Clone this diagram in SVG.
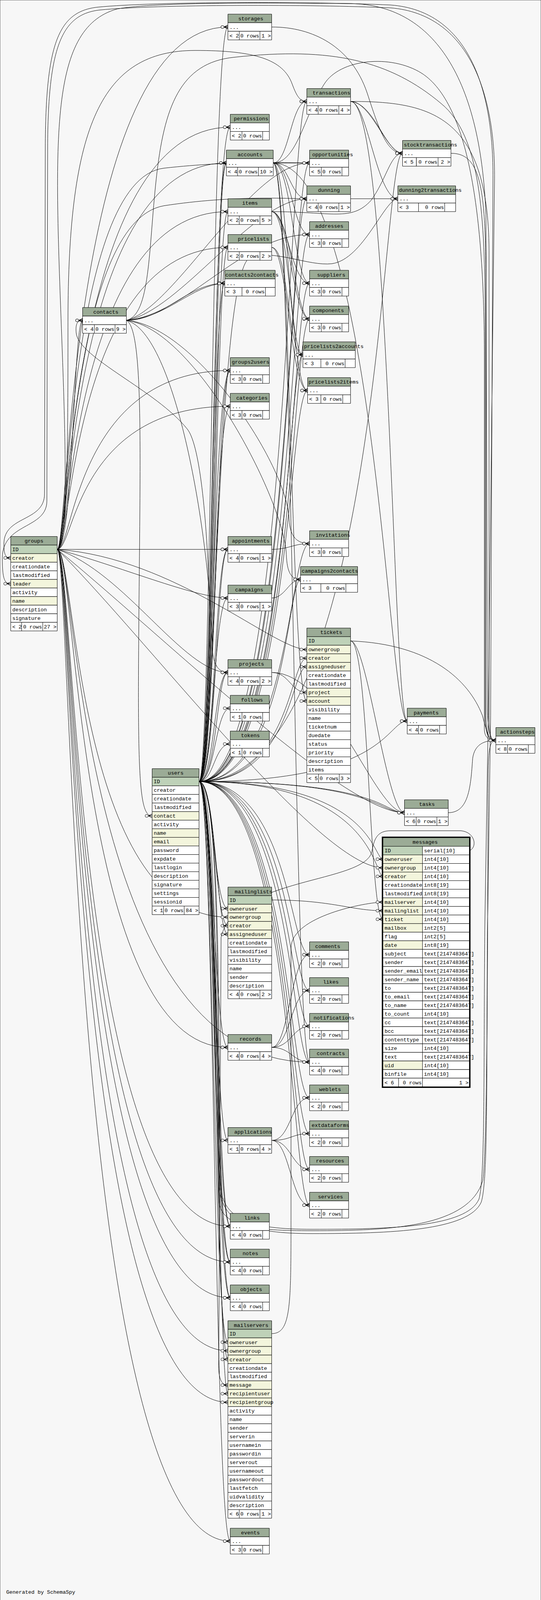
<svg xmlns="http://www.w3.org/2000/svg" width="1385" height="4472" viewBox="0 0 1385 4472">
<style>
.h{fill:#9bab96}.p{fill:#bed1b8}.i{fill:#f3f5dc}.w{fill:#fff}
rect{stroke:#000;stroke-width:1;vector-effect:non-scaling-stroke}
text{font-family:"Liberation Mono","DejaVu Sans Mono",monospace;font-size:13.4px;fill:#000}
.c{text-anchor:middle}.e{text-anchor:end}
#edges path{fill:none;stroke:#000;stroke-width:1;vector-effect:non-scaling-stroke;marker-end:url(#cf)}
</style>
<defs>
<marker id="cf" markerUnits="userSpaceOnUse" viewBox="-20 -7 22 14" markerWidth="22" markerHeight="14" refX="0" refY="0" orient="auto" overflow="visible">
<circle cx="-14" cy="0" r="4" fill="#f7f7f7" stroke="#000" stroke-width="1"/>
<path d="M-10,0 L0,-5 M-10,0 L0,5 M-10,0 L0,0" fill="none" stroke="#000" stroke-width="1.3"/>
</marker>
</defs>
<rect x="0" y="0" width="1385" height="4472" fill="#f7f7f7" stroke="none"/>
<g id="diagram" transform="matrix(1 0 0 0.9159 0 0)">
<g id="edges">
<path d="M509.5,2184.5 C541,2184.5 541,75.5 583.5,75.5"/>
<path d="M509.5,2184.5 C543,2184.5 543,355.5 589.5,355.5"/>
<path d="M509.5,2184.5 C545,2184.5 545,455.5 579.5,455.5"/>
<path d="M509.5,2184.5 C549,2184.5 549,455.5 579.5,455.5"/>
<path d="M509.5,2184.5 C550,2184.5 550,591.5 583.5,591.5"/>
<path d="M509.5,2184.5 C552,2184.5 552,691.5 583.5,691.5"/>
<path d="M509.5,2184.5 C544,2184.5 544,791.5 575.5,791.5"/>
<path d="M509.5,2184.5 C546,2184.5 546,1035.5 589.5,1035.5"/>
<path d="M509.5,2184.5 C553,2184.5 553,1035.5 589.5,1035.5"/>
<path d="M509.5,2184.5 C548,2184.5 548,1135.5 589.5,1135.5"/>
<path d="M509.5,2184.5 C550,2184.5 550,1535.5 583.5,1535.5"/>
<path d="M509.5,2184.5 C554,2184.5 554,1535.5 583.5,1535.5"/>
<path d="M509.5,2184.5 C547,2184.5 547,1671.5 583.5,1671.5"/>
<path d="M509.5,2184.5 C549,2184.5 549,1879.5 583.5,1879.5"/>
<path d="M509.5,2184.5 C555,2184.5 555,1879.5 583.5,1879.5"/>
<path d="M509.5,2184.5 C551,2184.5 551,1979.5 589.5,1979.5"/>
<path d="M509.5,2184.5 C548,2184.5 548,2079.5 589.5,2079.5"/>
<path d="M509.5,2184.5 C548,2184.5 548,2539.5 583.5,2539.5"/>
<path d="M509.5,2184.5 C551,2184.5 551,2587.5 583.5,2587.5"/>
<path d="M509.5,2184.5 C554,2184.5 554,2611.5 583.5,2611.5"/>
<path d="M509.5,2184.5 C547,2184.5 547,2927.5 583.5,2927.5"/>
<path d="M509.5,2184.5 C549,2184.5 549,3187.5 583.5,3187.5"/>
<path d="M509.5,2184.5 C551,2184.5 551,3427.5 589.5,3427.5"/>
<path d="M509.5,2184.5 C555,2184.5 555,3427.5 589.5,3427.5"/>
<path d="M509.5,2184.5 C548,2184.5 548,3527.5 589.5,3527.5"/>
<path d="M509.5,2184.5 C553,2184.5 553,3527.5 589.5,3527.5"/>
<path d="M509.5,2184.5 C550,2184.5 550,3627.5 589.5,3627.5"/>
<path d="M509.5,2184.5 C556,2184.5 556,3627.5 589.5,3627.5"/>
<path d="M509.5,2184.5 C546,2184.5 546,3751.5 583.5,3751.5"/>
<path d="M509.5,2184.5 C552,2184.5 552,3799.5 583.5,3799.5"/>
<path d="M509.5,2184.5 C557,2184.5 557,3895.5 583.5,3895.5"/>
<path d="M509.5,2184.5 C549,2184.5 549,4307.5 589.5,4307.5"/>
<path d="M509.5,2184.5 C738,2184.5 738,283.5 785.5,283.5"/>
<path d="M509.5,2184.5 C742,2184.5 742,455.5 792.5,455.5"/>
<path d="M509.5,2184.5 C740,2184.5 740,555.5 785.5,555.5"/>
<path d="M509.5,2184.5 C744,2184.5 744,655.5 792.5,655.5"/>
<path d="M509.5,2184.5 C746,2184.5 746,791.5 792.5,791.5"/>
<path d="M509.5,2184.5 C748,2184.5 748,891.5 792.5,891.5"/>
<path d="M509.5,2184.5 C736,2184.5 736,991.5 775.5,991.5"/>
<path d="M509.5,2184.5 C739,2184.5 739,1091.5 787.5,1091.5"/>
<path d="M509.5,2184.5 C741,2184.5 741,1519.5 792.5,1519.5"/>
<path d="M509.5,2184.5 C735,2184.5 735,1619.5 769.5,1619.5"/>
<path d="M509.5,2184.5 C743,2184.5 743,1839.5 785.5,1839.5"/>
<path d="M509.5,2184.5 C745,2184.5 745,1863.5 785.5,1863.5"/>
<path d="M509.5,2184.5 C742,2184.5 742,2668.5 792.5,2668.5"/>
<path d="M509.5,2184.5 C744,2184.5 744,2768.5 792.5,2768.5"/>
<path d="M509.5,2184.5 C746,2184.5 746,2868.5 792.5,2868.5"/>
<path d="M509.5,2184.5 C748,2184.5 748,2968.5 792.5,2968.5"/>
<path d="M509.5,2184.5 C740,2184.5 740,3068.5 792.5,3068.5"/>
<path d="M509.5,2184.5 C743,2184.5 743,3168.5 792.5,3168.5"/>
<path d="M509.5,2184.5 C745,2184.5 745,3268.5 792.5,3268.5"/>
<path d="M509.5,2184.5 C747,2184.5 747,3368.5 792.5,3368.5"/>
<path d="M509.5,2184.5 C975,2184.5 975,428.5 1030.5,428.5"/>
<path d="M509.5,2184.5 C553,2184.5 553,760 640,720 C700,695 790,745 850,737 C930,725 985,555.5 1018.5,555.5"/>
<path d="M509.5,2184.5 C990,2184.5 990,2015.5 1042.5,2015.5"/>
<path d="M509.5,2184.5 C968,2184.5 968,2271.5 1035.5,2271.5"/>
<path d="M509.5,2184.5 C980,2184.5 980,2271.5 1035.5,2271.5"/>
<path d="M509.5,2184.5 C955,2184.5 955,2401.5 980.5,2401.5"/>
<path d="M509.5,2184.5 C958,2184.5 958,2449.5 980.5,2449.5"/>
<path d="M509.5,2184.5 C556,2184.5 556,3000 560,3350 C562,3430 650,3440 800,3440 C1000,3440 1200,3430 1236,3300 C1250,3200 1248,2400 1250,2150 C1251,2090 1255,2069.5 1269.5,2069.5"/>
<path d="M509.5,2184.5 C558,2184.5 558,2700 560,3300 C562,3420 640,3448 800,3448 C1000,3448 1200,3440 1232,3360 C1250,3300 1245,3000 1248,2600 L1256,2000 L1262,500 C1264,250 1200,30 1000,14 C800,4 400,4 250,20 C150,32 118,120 116,400 L114,1380 C114,1460 10,1440 10,1520 C10,1550 14,1559.5 27.5,1559.5"/>
<path d="M509.5,2184.5 C560,2184.5 560,2700 563,3300 C565,3410 640,3436 800,3436 C1000,3436 1195,3430 1226,3352 C1242,3295 1238,3000 1241,2600 L1250,2000 L1266,500 C1268,260 1200,40 1000,22 C800,12 400,12 255,28 C160,40 124,125 122,400 L120,1400 C120,1480 6,1460 6,1560 C6,1620 12,1631.5 27.5,1631.5"/>
<path d="M509.5,2184.5 C551,2184.5 551,1300 480,1200 C400,1090 200,1000 195,930 C193,905 198,895.5 211.5,895.5"/>
<path d="M146.5,1535.5 C176,1535.5 176,75.5 583.5,75.5"/>
<path d="M146.5,1535.5 C178,1535.5 178,355.5 589.5,355.5"/>
<path d="M146.5,1535.5 C180,1535.5 180,455.5 579.5,455.5"/>
<path d="M146.5,1535.5 C182,1535.5 182,591.5 583.5,591.5"/>
<path d="M146.5,1535.5 C184,1535.5 184,691.5 583.5,691.5"/>
<path d="M146.5,1535.5 C188,1535.5 188,895.5 211.5,895.5"/>
<path d="M146.5,1535.5 C190,1535.5 190,1035.5 589.5,1035.5"/>
<path d="M146.5,1535.5 C192,1535.5 192,1135.5 589.5,1135.5"/>
<path d="M146.5,1535.5 L583.5,1535.5"/>
<path d="M146.5,1535.5 C300,1580 500,1671.5 583.5,1671.5"/>
<path d="M146.5,1535.5 C450,1560 700,1815.5 785.5,1815.5"/>
<path d="M146.5,1535.5 C320,1600 470,1879.5 583.5,1879.5"/>
<path d="M146.5,1535.5 C420,1780 880,2271.5 1035.5,2271.5"/>
<path d="M146.5,1535.5 C380,1790 820,2425.5 980.5,2425.5"/>
<path d="M146.5,1535.5 C194,1535.5 194,2563.5 583.5,2563.5"/>
<path d="M146.5,1535.5 C196,1535.5 196,2927.5 583.5,2927.5"/>
<path d="M146.5,1535.5 C198,1535.5 198,2968.5 792.5,2968.5"/>
<path d="M146.5,1535.5 C192,1535.5 192,3427.5 589.5,3427.5"/>
<path d="M146.5,1535.5 C190,1535.5 190,3527.5 589.5,3527.5"/>
<path d="M146.5,1535.5 C188,1535.5 188,3627.5 589.5,3627.5"/>
<path d="M146.5,1535.5 C186,1535.5 186,3775.5 583.5,3775.5"/>
<path d="M146.5,1535.5 C184,1535.5 184,3919.5 583.5,3919.5"/>
<path d="M146.5,1535.5 C182,1535.5 182,4307.5 589.5,4307.5"/>
<path d="M146.5,1535.5 C174,1535.5 174,1200 174,900 C174,350 260,141 500,141 C650,141 725,165 748,235 C760,270 768,283.5 785.5,283.5"/>
<path d="M146.5,1535.5 C177,1535.5 177,620 420,575 C600,545 740,555.5 785.5,555.5"/>
<path d="M146.5,1535.5 C175,1535.5 175,500 420,470 C600,448 740,455.5 792.5,455.5"/>
<path d="M146.5,1535.5 C172,1535.5 170,1300 160,1000 C140,400 120,80 300,25 C400,5 700,8 900,10 C1100,15 1230,200 1244,600 L1248,1990 C1250,2050 1255,2069.5 1269.5,2069.5"/>
<path d="M323.5,895.5 C420,895.5 480,791.5 575.5,791.5"/>
<path d="M323.5,895.5 C430,888 490,796 575.5,791.5"/>
<path d="M323.5,895.5 C480,880 620,655.5 792.5,655.5"/>
<path d="M323.5,895.5 C450,860 640,455.5 792.5,455.5"/>
<path d="M323.5,895.5 C460,870 650,555.5 785.5,555.5"/>
<path d="M323.5,895.5 C500,910 735,1300 740,1450 C742,1500 760,1519.5 792.5,1519.5"/>
<path d="M323.5,895.5 C500,918 728,1400 733,1550 C735,1600 745,1619.5 769.5,1619.5"/>
<path d="M323.5,895.5 C450,930 538,1500 543,1800 C544,1860 560,1879.5 583.5,1879.5"/>
<path d="M323.5,895.5 C370,920 358,1300 355,1800 C352,2200 360,2280.5 389.5,2280.5"/>
<path d="M323.5,895.5 C385,880 380,700 400,500 C420,300 460,175 600,160 C850,130 1000,170 1130,290 C1230,380 1242,600 1242,900 L1242,2000 C1243,2055 1250,2069.5 1269.5,2069.5"/>
<path d="M699.5,455.5 L792.5,455.5"/>
<path d="M699.5,455.5 C740,455.5 745,283.5 785.5,283.5"/>
<path d="M699.5,455.5 C740,455.5 745,555.5 785.5,555.5"/>
<path d="M699.5,455.5 C745,455.5 750,655.5 792.5,655.5"/>
<path d="M699.5,455.5 C748,455.5 752,791.5 792.5,791.5"/>
<path d="M699.5,455.5 C735,455.5 738,991.5 775.5,991.5"/>
<path d="M699.5,455.5 C742,455.5 745,1959.5 785.5,1959.5"/>
<path d="M699.5,455.5 C750,455.5 752,2968.5 792.5,2968.5"/>
<path d="M699.5,455.5 C960,455.5 995,2015.5 1042.5,2015.5"/>
<path d="M699.5,455.5 C760,455.5 780,320 830,235 C870,165 1000,150 1080,205 C1200,290 1240,600 1240,1000 L1240,2040 C1241,2060 1250,2069.5 1269.5,2069.5"/>
<path d="M695.5,591.5 C850,591.5 900,620 950,560 C990,500 1000,428.5 1030.5,428.5"/>
<path d="M695.5,591.5 C745,591.5 748,1091.5 787.5,1091.5"/>
<path d="M695.5,591.5 C740,591.5 750,891.5 792.5,891.5"/>
<path d="M695.5,591.5 C746,594 756,889 792.5,891.5"/>
<path d="M695.5,591.5 C735,591.5 745,791.5 792.5,791.5"/>
<path d="M695.5,691.5 C740,691.5 735,991.5 775.5,991.5"/>
<path d="M695.5,691.5 C735,691.5 745,1091.5 787.5,1091.5"/>
<path d="M897.5,283.5 C950,283.5 990,428.5 1030.5,428.5"/>
<path d="M897.5,283.5 C960,290 985,424 1030.5,428.5"/>
<path d="M897.5,283.5 C940,283.5 965,555.5 1018.5,555.5"/>
<path d="M897.5,283.5 C1000,283.5 1005,2015.5 1042.5,2015.5"/>
<path d="M897.5,283.5 C1100,283.5 1250,320 1252,700 L1252,2000 C1253,2060 1257,2069.5 1269.5,2069.5"/>
<path d="M897.5,555.5 L1018.5,555.5"/>
<path d="M695.5,75.5 C800,75 900,130 940,260 C970,360 990,428.5 1030.5,428.5"/>
<path d="M1154.5,428.5 C1230,428.5 1244,520 1244,800 L1244,2000 C1245,2060 1250,2069.5 1269.5,2069.5"/>
<path d="M897.5,1791.5 C1100,1800 1200,1900 1235,2000 C1245,2040 1250,2069.5 1269.5,2069.5"/>
<path d="M897.5,1791.5 C940,1791.5 990,2271.5 1035.5,2271.5"/>
<path d="M897.5,1791.5 C945,1791.5 945,2569.5 980.5,2569.5"/>
<path d="M695.5,1879.5 C740,1879.5 745,1935.5 785.5,1935.5"/>
<path d="M695.5,1879.5 C850,1879.5 960,2271.5 1035.5,2271.5"/>
<path d="M695.5,1671.5 C730,1671.5 740,1619.5 769.5,1619.5"/>
<path d="M695.5,1535.5 C740,1535.5 750,1519.5 792.5,1519.5"/>
<path d="M695.5,2515.5 C850,2515.5 900,2545.5 980.5,2545.5"/>
<path d="M695.5,3727.5 C745,3727.5 745,3650 745,3400 L745,2650 C745,2560 940,2521.5 980.5,2521.5"/>
<path d="M1201.5,2377.5 C1222,2370 1218,2326 1180,2322 L1000,2322 C965,2322 958,2345 952,2380 C935,2470 600,2450 566,2620 L560,3800 C558,3850 565,3871.5 583.5,3871.5"/>
<path d="M695.5,2927.5 C740,2927.5 745,2668.5 792.5,2668.5"/>
<path d="M695.5,2927.5 C742,2927.5 747,2768.5 792.5,2768.5"/>
<path d="M695.5,2927.5 C745,2927.5 750,2868.5 792.5,2868.5"/>
<path d="M695.5,2927.5 C745,2927.5 750,2968.5 792.5,2968.5"/>
<path d="M695.5,3187.5 C745,3187.5 745,3068.5 792.5,3068.5"/>
<path d="M695.5,3187.5 C745,3187.5 748,3168.5 792.5,3168.5"/>
<path d="M695.5,3187.5 C745,3187.5 748,3268.5 792.5,3268.5"/>
<path d="M695.5,3187.5 C742,3187.5 745,3368.5 792.5,3368.5"/>
<path d="M1147.5,2271.5 C1200,2271.5 1205,2200 1210,2120 C1215,2080 1240,2069.5 1269.5,2069.5"/>
</g>

<g id="storages"><rect class="h" x="583.5" y="39.5" width="112" height="24"/><rect class="w" x="583.5" y="63.5" width="112" height="24"/><rect class="w" x="583.5" y="87.5" width="29" height="24"/><rect class="w" x="612.5" y="87.5" width="53" height="24"/><rect class="w" x="665.5" y="87.5" width="30" height="24"/><text class="c" x="642" y="56.5">storages</text><text x="587.5" y="80.5">...</text><text x="587.5" y="104.5">&lt; 2</text><text class="e" x="663.5" y="104.5">0 rows</text><text class="e" x="693.5" y="104.5">1 &gt;</text></g>

<g id="transactions"><rect class="h" x="785.5" y="247.5" width="112" height="24"/><rect class="w" x="785.5" y="271.5" width="112" height="24"/><rect class="w" x="785.5" y="295.5" width="29" height="24"/><rect class="w" x="814.5" y="295.5" width="53" height="24"/><rect class="w" x="867.5" y="295.5" width="30" height="24"/><text class="c" x="848.5" y="264.5">transactions</text><text x="789.5" y="288.5">...</text><text x="789.5" y="312.5">&lt; 4</text><text class="e" x="865.5" y="312.5">0 rows</text><text class="e" x="895.5" y="312.5">4 &gt;</text></g>

<g id="permissions"><rect class="h" x="589.5" y="319.5" width="100" height="24"/><rect class="w" x="589.5" y="343.5" width="100" height="24"/><rect class="w" x="589.5" y="367.5" width="30" height="24"/><rect class="w" x="619.5" y="367.5" width="53" height="24"/><rect class="w" x="672.5" y="367.5" width="17" height="24"/><text class="c" x="642.7" y="336.5">permissions</text><text x="593.5" y="360.5">...</text><text x="593.5" y="384.5">&lt; 2</text><text class="e" x="670.5" y="384.5">0 rows</text></g>

<g id="accounts"><rect class="h" x="579.5" y="419.5" width="120" height="24"/><rect class="w" x="579.5" y="443.5" width="120" height="24"/><rect class="w" x="579.5" y="467.5" width="29" height="24"/><rect class="w" x="608.5" y="467.5" width="53" height="24"/><rect class="w" x="661.5" y="467.5" width="38" height="24"/><text class="c" x="640" y="436.5">accounts</text><text x="583.5" y="460.5">...</text><text x="583.5" y="484.5">&lt; 4</text><text class="e" x="659.5" y="484.5">0 rows</text><text class="e" x="697.5" y="484.5">10 &gt;</text></g>

<g id="opportunities"><rect class="h" x="792.5" y="419.5" width="100" height="24"/><rect class="w" x="792.5" y="443.5" width="100" height="24"/><rect class="w" x="792.5" y="467.5" width="30" height="24"/><rect class="w" x="822.5" y="467.5" width="53" height="24"/><rect class="w" x="875.5" y="467.5" width="17" height="24"/><text class="c" x="851.5" y="436.5">opportunities</text><text x="796.5" y="460.5">...</text><text x="796.5" y="484.5">&lt; 5</text><text class="e" x="873.5" y="484.5">0 rows</text></g>

<g id="stocktransactions"><rect class="h" x="1030.5" y="392.5" width="124" height="24"/><rect class="w" x="1030.5" y="416.5" width="124" height="24"/><rect class="w" x="1030.5" y="440.5" width="35.5" height="24"/><rect class="w" x="1066" y="440.5" width="55.5" height="24"/><rect class="w" x="1121.5" y="440.5" width="33" height="24"/><text class="c" x="1102" y="409.5">stocktransactions</text><text x="1034.5" y="433.5">...</text><text x="1034.5" y="457.5">&lt; 5</text><text class="e" x="1119.5" y="457.5">0 rows</text><text class="e" x="1152.5" y="457.5">2 &gt;</text></g>

<g id="dunning"><rect class="h" x="785.5" y="519.5" width="112" height="24"/><rect class="w" x="785.5" y="543.5" width="112" height="24"/><rect class="w" x="785.5" y="567.5" width="29" height="24"/><rect class="w" x="814.5" y="567.5" width="53" height="24"/><rect class="w" x="867.5" y="567.5" width="30" height="24"/><text class="c" x="842" y="536.5">dunning</text><text x="789.5" y="560.5">...</text><text x="789.5" y="584.5">&lt; 4</text><text class="e" x="865.5" y="584.5">0 rows</text><text class="e" x="895.5" y="584.5">1 &gt;</text></g>

<g id="dunning2transactions"><rect class="h" x="1018.5" y="519.5" width="148" height="24"/><rect class="w" x="1018.5" y="543.5" width="148" height="24"/><rect class="w" x="1018.5" y="567.5" width="53" height="24"/><rect class="w" x="1071.5" y="567.5" width="67" height="24"/><rect class="w" x="1138.5" y="567.5" width="28" height="24"/><text class="c" x="1101.5" y="536.5">dunning2transactions</text><text x="1022.5" y="560.5">...</text><text x="1022.5" y="584.5">&lt; 3</text><text class="e" x="1136.5" y="584.5">0 rows</text></g>

<g id="items"><rect class="h" x="583.5" y="555.5" width="112" height="24"/><rect class="w" x="583.5" y="579.5" width="112" height="24"/><rect class="w" x="583.5" y="603.5" width="29" height="24"/><rect class="w" x="612.5" y="603.5" width="53" height="24"/><rect class="w" x="665.5" y="603.5" width="30" height="24"/><text class="c" x="640" y="572.5">items</text><text x="587.5" y="596.5">...</text><text x="587.5" y="620.5">&lt; 2</text><text class="e" x="663.5" y="620.5">0 rows</text><text class="e" x="693.5" y="620.5">5 &gt;</text></g>

<g id="addresses"><rect class="h" x="792.5" y="619.5" width="100" height="24"/><rect class="w" x="792.5" y="643.5" width="100" height="24"/><rect class="w" x="792.5" y="667.5" width="30" height="24"/><rect class="w" x="822.5" y="667.5" width="53" height="24"/><rect class="w" x="875.5" y="667.5" width="17" height="24"/><text class="c" x="843" y="636.5">addresses</text><text x="796.5" y="660.5">...</text><text x="796.5" y="684.5">&lt; 3</text><text class="e" x="873.5" y="684.5">0 rows</text></g>

<g id="pricelists"><rect class="h" x="583.5" y="655.5" width="112" height="24"/><rect class="w" x="583.5" y="679.5" width="112" height="24"/><rect class="w" x="583.5" y="703.5" width="29" height="24"/><rect class="w" x="612.5" y="703.5" width="53" height="24"/><rect class="w" x="665.5" y="703.5" width="30" height="24"/><text class="c" x="649" y="672.5">pricelists</text><text x="587.5" y="696.5">...</text><text x="587.5" y="720.5">&lt; 2</text><text class="e" x="663.5" y="720.5">0 rows</text><text class="e" x="693.5" y="720.5">2 &gt;</text></g>

<g id="contacts2contacts"><rect class="h" x="575.5" y="755.5" width="129" height="24"/><rect class="w" x="575.5" y="779.5" width="129" height="24"/><rect class="w" x="575.5" y="803.5" width="44" height="24"/><rect class="w" x="619.5" y="803.5" width="60" height="24"/><rect class="w" x="679.5" y="803.5" width="25" height="24"/><text class="c" x="645" y="772.5">contacts2contacts</text><text x="579.5" y="796.5">...</text><text x="579.5" y="820.5">&lt; 3</text><text class="e" x="677.5" y="820.5">0 rows</text></g>

<g id="suppliers"><rect class="h" x="792.5" y="755.5" width="100" height="24"/><rect class="w" x="792.5" y="779.5" width="100" height="24"/><rect class="w" x="792.5" y="803.5" width="30" height="24"/><rect class="w" x="822.5" y="803.5" width="53" height="24"/><rect class="w" x="875.5" y="803.5" width="17" height="24"/><text class="c" x="847.8" y="772.5">suppliers</text><text x="796.5" y="796.5">...</text><text x="796.5" y="820.5">&lt; 3</text><text class="e" x="873.5" y="820.5">0 rows</text></g>

<g id="components"><rect class="h" x="792.5" y="855.5" width="100" height="24"/><rect class="w" x="792.5" y="879.5" width="100" height="24"/><rect class="w" x="792.5" y="903.5" width="30" height="24"/><rect class="w" x="822.5" y="903.5" width="53" height="24"/><rect class="w" x="875.5" y="903.5" width="17" height="24"/><text class="c" x="840.5" y="872.5">components</text><text x="796.5" y="896.5">...</text><text x="796.5" y="920.5">&lt; 3</text><text class="e" x="873.5" y="920.5">0 rows</text></g>

<g id="contacts"><rect class="h" x="211.5" y="859.5" width="112" height="24"/><rect class="w" x="211.5" y="883.5" width="112" height="24"/><rect class="w" x="211.5" y="907.5" width="30" height="24"/><rect class="w" x="241.5" y="907.5" width="53" height="24"/><rect class="w" x="294.5" y="907.5" width="29" height="24"/><text class="c" x="271" y="876.5">contacts</text><text x="215.5" y="900.5">...</text><text x="215.5" y="924.5">&lt; 4</text><text class="e" x="292.5" y="924.5">0 rows</text><text class="e" x="321.5" y="924.5">9 &gt;</text></g>

<g id="pricelists2accounts"><rect class="h" x="775.5" y="955.5" width="134" height="24"/><rect class="w" x="775.5" y="979.5" width="134" height="24"/><rect class="w" x="775.5" y="1003.5" width="46" height="24"/><rect class="w" x="821.5" y="1003.5" width="62" height="24"/><rect class="w" x="883.5" y="1003.5" width="26" height="24"/><text class="c" x="854.5" y="972.5">pricelists2accounts</text><text x="779.5" y="996.5">...</text><text x="779.5" y="1020.5">&lt; 3</text><text class="e" x="881.5" y="1020.5">0 rows</text></g>

<g id="groups2users"><rect class="h" x="589.5" y="999.5" width="100" height="24"/><rect class="w" x="589.5" y="1023.5" width="100" height="24"/><rect class="w" x="589.5" y="1047.5" width="30" height="24"/><rect class="w" x="619.5" y="1047.5" width="53" height="24"/><rect class="w" x="672.5" y="1047.5" width="17" height="24"/><text class="c" x="641.5" y="1016.5">groups2users</text><text x="593.5" y="1040.5">...</text><text x="593.5" y="1064.5">&lt; 3</text><text class="e" x="670.5" y="1064.5">0 rows</text></g>

<g id="pricelists2items"><rect class="h" x="787.5" y="1055.5" width="110" height="24"/><rect class="w" x="787.5" y="1079.5" width="110" height="24"/><rect class="w" x="787.5" y="1103.5" width="34" height="24"/><rect class="w" x="821.5" y="1103.5" width="56" height="24"/><rect class="w" x="877.5" y="1103.5" width="20" height="24"/><text class="c" x="854" y="1072.5">pricelists2items</text><text x="791.5" y="1096.5">...</text><text x="791.5" y="1120.5">&lt; 3</text><text class="e" x="875.5" y="1120.5">0 rows</text></g>

<g id="categories"><rect class="h" x="589.5" y="1099.5" width="100" height="24"/><rect class="w" x="589.5" y="1123.5" width="100" height="24"/><rect class="w" x="589.5" y="1147.5" width="30" height="24"/><rect class="w" x="619.5" y="1147.5" width="53" height="24"/><rect class="w" x="672.5" y="1147.5" width="17" height="24"/><text class="c" x="645" y="1116.5">categories</text><text x="593.5" y="1140.5">...</text><text x="593.5" y="1164.5">&lt; 3</text><text class="e" x="670.5" y="1164.5">0 rows</text></g>

<g id="invitations"><rect class="h" x="792.5" y="1483.5" width="100" height="24"/><rect class="w" x="792.5" y="1507.5" width="100" height="24"/><rect class="w" x="792.5" y="1531.5" width="30" height="24"/><rect class="w" x="822.5" y="1531.5" width="53" height="24"/><rect class="w" x="875.5" y="1531.5" width="17" height="24"/><text class="c" x="852.5" y="1500.5">invitations</text><text x="796.5" y="1524.5">...</text><text x="796.5" y="1548.5">&lt; 3</text><text class="e" x="873.5" y="1548.5">0 rows</text></g>

<g id="appointments"><rect class="h" x="583.5" y="1499.5" width="112" height="24"/><rect class="w" x="583.5" y="1523.5" width="112" height="24"/><rect class="w" x="583.5" y="1547.5" width="29" height="24"/><rect class="w" x="612.5" y="1547.5" width="53" height="24"/><rect class="w" x="665.5" y="1547.5" width="30" height="24"/><text class="c" x="642" y="1516.5">appointments</text><text x="587.5" y="1540.5">...</text><text x="587.5" y="1564.5">&lt; 4</text><text class="e" x="663.5" y="1564.5">0 rows</text><text class="e" x="693.5" y="1564.5">1 &gt;</text></g>

<g id="groups"><rect class="h" x="27.5" y="1499.5" width="119" height="24"/><text class="c" x="87" y="1516.5">groups</text>
<rect class="p" x="27.5" y="1523.5" width="119" height="24"/><text x="31.5" y="1540.5">ID</text>
<rect class="i" x="27.5" y="1547.5" width="119" height="24"/><text x="31.5" y="1564.5">creator</text>
<rect class="w" x="27.5" y="1571.5" width="119" height="24"/><text x="31.5" y="1588.5">creationdate</text>
<rect class="w" x="27.5" y="1595.5" width="119" height="24"/><text x="31.5" y="1612.5">lastmodified</text>
<rect class="i" x="27.5" y="1619.5" width="119" height="24"/><text x="31.5" y="1636.5">leader</text>
<rect class="w" x="27.5" y="1643.5" width="119" height="24"/><text x="31.5" y="1660.5">activity</text>
<rect class="i" x="27.5" y="1667.5" width="119" height="24"/><text x="31.5" y="1684.5">name</text>
<rect class="w" x="27.5" y="1691.5" width="119" height="24"/><text x="31.5" y="1708.5">description</text>
<rect class="w" x="27.5" y="1715.5" width="119" height="24"/><text x="31.5" y="1732.5">signature</text>
<rect class="w" x="27.5" y="1739.5" width="28" height="24"/><rect class="w" x="55.5" y="1739.5" width="54" height="24"/><rect class="w" x="109.5" y="1739.5" width="37" height="24"/><text x="31.5" y="1756.5">&lt; 2</text><text class="e" x="107.5" y="1756.5">0 rows</text><text class="e" x="144.5" y="1756.5">27 &gt;</text></g>

<g id="campaigns2contacts"><rect class="h" x="769.5" y="1583.5" width="146" height="24"/><rect class="w" x="769.5" y="1607.5" width="146" height="24"/><rect class="w" x="769.5" y="1631.5" width="52" height="24"/><rect class="w" x="821.5" y="1631.5" width="64" height="24"/><rect class="w" x="885.5" y="1631.5" width="30" height="24"/><text class="c" x="844.5" y="1600.5">campaigns2contacts</text><text x="773.5" y="1624.5">...</text><text x="773.5" y="1648.5">&lt; 3</text><text class="e" x="883.5" y="1648.5">0 rows</text></g>

<g id="campaigns"><rect class="h" x="583.5" y="1635.5" width="112" height="24"/><rect class="w" x="583.5" y="1659.5" width="112" height="24"/><rect class="w" x="583.5" y="1683.5" width="29" height="24"/><rect class="w" x="612.5" y="1683.5" width="53" height="24"/><rect class="w" x="665.5" y="1683.5" width="30" height="24"/><text class="c" x="638" y="1652.5">campaigns</text><text x="587.5" y="1676.5">...</text><text x="587.5" y="1700.5">&lt; 3</text><text class="e" x="663.5" y="1700.5">0 rows</text><text class="e" x="693.5" y="1700.5">1 &gt;</text></g>

<g id="tickets"><rect class="h" x="785.5" y="1755.5" width="112" height="24"/><text class="c" x="848" y="1772.5">tickets</text>
<rect class="p" x="785.5" y="1779.5" width="112" height="24"/><text x="789.5" y="1796.5">ID</text>
<rect class="i" x="785.5" y="1803.5" width="112" height="24"/><text x="789.5" y="1820.5">ownergroup</text>
<rect class="i" x="785.5" y="1827.5" width="112" height="24"/><text x="789.5" y="1844.5">creator</text>
<rect class="i" x="785.5" y="1851.5" width="112" height="24"/><text x="789.5" y="1868.5">assigneduser</text>
<rect class="w" x="785.5" y="1875.5" width="112" height="24"/><text x="789.5" y="1892.5">creationdate</text>
<rect class="w" x="785.5" y="1899.5" width="112" height="24"/><text x="789.5" y="1916.5">lastmodified</text>
<rect class="i" x="785.5" y="1923.5" width="112" height="24"/><text x="789.5" y="1940.5">project</text>
<rect class="i" x="785.5" y="1947.5" width="112" height="24"/><text x="789.5" y="1964.5">account</text>
<rect class="w" x="785.5" y="1971.5" width="112" height="24"/><text x="789.5" y="1988.5">visibility</text>
<rect class="w" x="785.5" y="1995.5" width="112" height="24"/><text x="789.5" y="2012.5">name</text>
<rect class="w" x="785.5" y="2019.5" width="112" height="24"/><text x="789.5" y="2036.5">ticketnum</text>
<rect class="w" x="785.5" y="2043.5" width="112" height="24"/><text x="789.5" y="2060.5">duedate</text>
<rect class="w" x="785.5" y="2067.5" width="112" height="24"/><text x="789.5" y="2084.5">status</text>
<rect class="w" x="785.5" y="2091.5" width="112" height="24"/><text x="789.5" y="2108.5">priority</text>
<rect class="w" x="785.5" y="2115.5" width="112" height="24"/><text x="789.5" y="2132.5">description</text>
<rect class="w" x="785.5" y="2139.5" width="112" height="24"/><text x="789.5" y="2156.5">items</text>
<rect class="w" x="785.5" y="2163.5" width="30" height="24"/><rect class="w" x="815.5" y="2163.5" width="53" height="24"/><rect class="w" x="868.5" y="2163.5" width="29" height="24"/><text x="789.5" y="2180.5">&lt; 5</text><text class="e" x="866.5" y="2180.5">0 rows</text><text class="e" x="895.5" y="2180.5">3 &gt;</text></g>

<g id="projects"><rect class="h" x="583.5" y="1843.5" width="112" height="24"/><rect class="w" x="583.5" y="1867.5" width="112" height="24"/><rect class="w" x="583.5" y="1891.5" width="29" height="24"/><rect class="w" x="612.5" y="1891.5" width="53" height="24"/><rect class="w" x="665.5" y="1891.5" width="30" height="24"/><text class="c" x="644" y="1860.5">projects</text><text x="587.5" y="1884.5">...</text><text x="587.5" y="1908.5">&lt; 4</text><text class="e" x="663.5" y="1908.5">0 rows</text><text class="e" x="693.5" y="1908.5">2 &gt;</text></g>

<g id="follows"><rect class="h" x="589.5" y="1943.5" width="100" height="24"/><rect class="w" x="589.5" y="1967.5" width="100" height="24"/><rect class="w" x="589.5" y="1991.5" width="30" height="24"/><rect class="w" x="619.5" y="1991.5" width="53" height="24"/><rect class="w" x="672.5" y="1991.5" width="17" height="24"/><text class="c" x="645" y="1960.5">follows</text><text x="593.5" y="1984.5">...</text><text x="593.5" y="2008.5">&lt; 1</text><text class="e" x="670.5" y="2008.5">0 rows</text></g>

<g id="tokens"><rect class="h" x="589.5" y="2043.5" width="100" height="24"/><rect class="w" x="589.5" y="2067.5" width="100" height="24"/><rect class="w" x="589.5" y="2091.5" width="30" height="24"/><rect class="w" x="619.5" y="2091.5" width="53" height="24"/><rect class="w" x="672.5" y="2091.5" width="17" height="24"/><text class="c" x="641" y="2060.5">tokens</text><text x="593.5" y="2084.5">...</text><text x="593.5" y="2108.5">&lt; 1</text><text class="e" x="670.5" y="2108.5">0 rows</text></g>

<g id="payments"><rect class="h" x="1042.5" y="1979.5" width="100" height="24"/><rect class="w" x="1042.5" y="2003.5" width="100" height="24"/><rect class="w" x="1042.5" y="2027.5" width="29" height="24"/><rect class="w" x="1071.5" y="2027.5" width="54" height="24"/><rect class="w" x="1125.5" y="2027.5" width="17" height="24"/><text class="c" x="1091" y="1996.5">payments</text><text x="1046.5" y="2020.5">...</text><text x="1046.5" y="2044.5">&lt; 4</text><text class="e" x="1123.5" y="2044.5">0 rows</text></g>

<g id="actionsteps"><rect class="h" x="1269.5" y="2033.5" width="100" height="24"/><rect class="w" x="1269.5" y="2057.5" width="100" height="24"/><rect class="w" x="1269.5" y="2081.5" width="30" height="24"/><rect class="w" x="1299.5" y="2081.5" width="53" height="24"/><rect class="w" x="1352.5" y="2081.5" width="17" height="24"/><text class="c" x="1324.5" y="2050.5">actionsteps</text><text x="1273.5" y="2074.5">...</text><text x="1273.5" y="2098.5">&lt; 8</text><text class="e" x="1350.5" y="2098.5">0 rows</text></g>

<g id="tasks"><rect class="h" x="1035.5" y="2235.5" width="112" height="24"/><rect class="w" x="1035.5" y="2259.5" width="112" height="24"/><rect class="w" x="1035.5" y="2283.5" width="30" height="24"/><rect class="w" x="1065.5" y="2283.5" width="53" height="24"/><rect class="w" x="1118.5" y="2283.5" width="29" height="24"/><text class="c" x="1093" y="2252.5">tasks</text><text x="1039.5" y="2276.5">...</text><text x="1039.5" y="2300.5">&lt; 6</text><text class="e" x="1116.5" y="2300.5">0 rows</text><text class="e" x="1145.5" y="2300.5">1 &gt;</text></g>

<g id="users"><rect class="h" x="389.5" y="2148.5" width="120" height="24"/><text class="c" x="449.7" y="2165.5">users</text>
<rect class="p" x="389.5" y="2172.5" width="120" height="24"/><text x="393.5" y="2189.5">ID</text>
<rect class="w" x="389.5" y="2196.5" width="120" height="24"/><text x="393.5" y="2213.5">creator</text>
<rect class="w" x="389.5" y="2220.5" width="120" height="24"/><text x="393.5" y="2237.5">creationdate</text>
<rect class="w" x="389.5" y="2244.5" width="120" height="24"/><text x="393.5" y="2261.5">lastmodified</text>
<rect class="i" x="389.5" y="2268.5" width="120" height="24"/><text x="393.5" y="2285.5">contact</text>
<rect class="w" x="389.5" y="2292.5" width="120" height="24"/><text x="393.5" y="2309.5">activity</text>
<rect class="i" x="389.5" y="2316.5" width="120" height="24"/><text x="393.5" y="2333.5">name</text>
<rect class="i" x="389.5" y="2340.5" width="120" height="24"/><text x="393.5" y="2357.5">email</text>
<rect class="w" x="389.5" y="2364.5" width="120" height="24"/><text x="393.5" y="2381.5">password</text>
<rect class="w" x="389.5" y="2388.5" width="120" height="24"/><text x="393.5" y="2405.5">expdate</text>
<rect class="w" x="389.5" y="2412.5" width="120" height="24"/><text x="393.5" y="2429.5">lastlogin</text>
<rect class="w" x="389.5" y="2436.5" width="120" height="24"/><text x="393.5" y="2453.5">description</text>
<rect class="w" x="389.5" y="2460.5" width="120" height="24"/><text x="393.5" y="2477.5">signature</text>
<rect class="w" x="389.5" y="2484.5" width="120" height="24"/><text x="393.5" y="2501.5">settings</text>
<rect class="w" x="389.5" y="2508.5" width="120" height="24"/><text x="393.5" y="2525.5">sessionid</text>
<rect class="w" x="389.5" y="2532.5" width="29" height="24"/><rect class="w" x="418.5" y="2532.5" width="53" height="24"/><rect class="w" x="471.5" y="2532.5" width="38" height="24"/><text x="393.5" y="2549.5">&lt; 1</text><text class="e" x="469.5" y="2549.5">0 rows</text><text class="e" x="507.5" y="2549.5">84 &gt;</text></g>

<g id="messages">
<rect class="h" x="980.5" y="2341.5" width="221" height="24"/><text class="c" x="1088.5" y="2358.5">messages</text>
<rect class="p" x="980.5" y="2365.5" width="101" height="24"/><rect class="w" x="1081.5" y="2365.5" width="120" height="24"/><text x="984.5" y="2382.5">ID</text><text x="1085.5" y="2382.5">serial[10]</text>
<rect class="i" x="980.5" y="2389.5" width="101" height="24"/><rect class="w" x="1081.5" y="2389.5" width="120" height="24"/><text x="984.5" y="2406.5">owneruser</text><text x="1085.5" y="2406.5">int4[10]</text>
<rect class="i" x="980.5" y="2413.5" width="101" height="24"/><rect class="w" x="1081.5" y="2413.5" width="120" height="24"/><text x="984.5" y="2430.5">ownergroup</text><text x="1085.5" y="2430.5">int4[10]</text>
<rect class="i" x="980.5" y="2437.5" width="101" height="24"/><rect class="w" x="1081.5" y="2437.5" width="120" height="24"/><text x="984.5" y="2454.5">creator</text><text x="1085.5" y="2454.5">int4[10]</text>
<rect class="w" x="980.5" y="2461.5" width="101" height="24"/><rect class="w" x="1081.5" y="2461.5" width="120" height="24"/><text x="984.5" y="2478.5">creationdate</text><text x="1085.5" y="2478.5">int8[19]</text>
<rect class="w" x="980.5" y="2485.5" width="101" height="24"/><rect class="w" x="1081.5" y="2485.5" width="120" height="24"/><text x="984.5" y="2502.5">lastmodified</text><text x="1085.5" y="2502.5">int8[19]</text>
<rect class="i" x="980.5" y="2509.5" width="101" height="24"/><rect class="w" x="1081.5" y="2509.5" width="120" height="24"/><text x="984.5" y="2526.5">mailserver</text><text x="1085.5" y="2526.5">int4[10]</text>
<rect class="i" x="980.5" y="2533.5" width="101" height="24"/><rect class="w" x="1081.5" y="2533.5" width="120" height="24"/><text x="984.5" y="2550.5">mailinglist</text><text x="1085.5" y="2550.5">int4[10]</text>
<rect class="i" x="980.5" y="2557.5" width="101" height="24"/><rect class="w" x="1081.5" y="2557.5" width="120" height="24"/><text x="984.5" y="2574.5">ticket</text><text x="1085.5" y="2574.5">int4[10]</text>
<rect class="i" x="980.5" y="2581.5" width="101" height="24"/><rect class="w" x="1081.5" y="2581.5" width="120" height="24"/><text x="984.5" y="2598.5">mailbox</text><text x="1085.5" y="2598.5">int2[5]</text>
<rect class="w" x="980.5" y="2605.5" width="101" height="24"/><rect class="w" x="1081.5" y="2605.5" width="120" height="24"/><text x="984.5" y="2622.5">flag</text><text x="1085.5" y="2622.5">int2[5]</text>
<rect class="i" x="980.5" y="2629.5" width="101" height="24"/><rect class="w" x="1081.5" y="2629.5" width="120" height="24"/><text x="984.5" y="2646.5">date</text><text x="1085.5" y="2646.5">int8[19]</text>
<rect class="w" x="980.5" y="2653.5" width="101" height="24"/><rect class="w" x="1081.5" y="2653.5" width="120" height="24"/><text x="984.5" y="2670.5">subject</text><text x="1085.5" y="2670.5">text[2147483647]</text>
<rect class="w" x="980.5" y="2677.5" width="101" height="24"/><rect class="w" x="1081.5" y="2677.5" width="120" height="24"/><text x="984.5" y="2694.5">sender</text><text x="1085.5" y="2694.5">text[2147483647]</text>
<rect class="w" x="980.5" y="2701.5" width="101" height="24"/><rect class="w" x="1081.5" y="2701.5" width="120" height="24"/><text x="984.5" y="2718.5">sender_email</text><text x="1085.5" y="2718.5">text[2147483647]</text>
<rect class="w" x="980.5" y="2725.5" width="101" height="24"/><rect class="w" x="1081.5" y="2725.5" width="120" height="24"/><text x="984.5" y="2742.5">sender_name</text><text x="1085.5" y="2742.5">text[2147483647]</text>
<rect class="w" x="980.5" y="2749.5" width="101" height="24"/><rect class="w" x="1081.5" y="2749.5" width="120" height="24"/><text x="984.5" y="2766.5">to</text><text x="1085.5" y="2766.5">text[2147483647]</text>
<rect class="w" x="980.5" y="2773.5" width="101" height="24"/><rect class="w" x="1081.5" y="2773.5" width="120" height="24"/><text x="984.5" y="2790.5">to_email</text><text x="1085.5" y="2790.5">text[2147483647]</text>
<rect class="w" x="980.5" y="2797.5" width="101" height="24"/><rect class="w" x="1081.5" y="2797.5" width="120" height="24"/><text x="984.5" y="2814.5">to_name</text><text x="1085.5" y="2814.5">text[2147483647]</text>
<rect class="w" x="980.5" y="2821.5" width="101" height="24"/><rect class="w" x="1081.5" y="2821.5" width="120" height="24"/><text x="984.5" y="2838.5">to_count</text><text x="1085.5" y="2838.5">int4[10]</text>
<rect class="w" x="980.5" y="2845.5" width="101" height="24"/><rect class="w" x="1081.5" y="2845.5" width="120" height="24"/><text x="984.5" y="2862.5">cc</text><text x="1085.5" y="2862.5">text[2147483647]</text>
<rect class="w" x="980.5" y="2869.5" width="101" height="24"/><rect class="w" x="1081.5" y="2869.5" width="120" height="24"/><text x="984.5" y="2886.5">bcc</text><text x="1085.5" y="2886.5">text[2147483647]</text>
<rect class="w" x="980.5" y="2893.5" width="101" height="24"/><rect class="w" x="1081.5" y="2893.5" width="120" height="24"/><text x="984.5" y="2910.5">contenttype</text><text x="1085.5" y="2910.5">text[2147483647]</text>
<rect class="w" x="980.5" y="2917.5" width="101" height="24"/><rect class="w" x="1081.5" y="2917.5" width="120" height="24"/><text x="984.5" y="2934.5">size</text><text x="1085.5" y="2934.5">int4[10]</text>
<rect class="w" x="980.5" y="2941.5" width="101" height="24"/><rect class="w" x="1081.5" y="2941.5" width="120" height="24"/><text x="984.5" y="2958.5">text</text><text x="1085.5" y="2958.5">text[2147483647]</text>
<rect class="i" x="980.5" y="2965.5" width="101" height="24"/><rect class="w" x="1081.5" y="2965.5" width="120" height="24"/><text x="984.5" y="2982.5">uid</text><text x="1085.5" y="2982.5">int4[10]</text>
<rect class="w" x="980.5" y="2989.5" width="101" height="24"/><rect class="w" x="1081.5" y="2989.5" width="120" height="24"/><text x="984.5" y="3006.5">binfile</text><text x="1085.5" y="3006.5">int4[10]</text>
<rect class="w" x="980.5" y="3013.5" width="40" height="24"/><rect class="w" x="1020.5" y="3013.5" width="61" height="24"/><rect class="w" x="1081.5" y="3013.5" width="120" height="24"/><text x="984.5" y="3030.5">&lt; 6</text><text class="e" x="1079.5" y="3030.5">0 rows</text><text class="e" x="1199.5" y="3030.5">1 &gt;</text>
<rect x="979" y="2340" width="224" height="699" fill="none" stroke="#000" style="stroke-width:3"/>
</g>

<g id="mailinglists"><rect class="h" x="583.5" y="2479.5" width="112" height="24"/><text class="c" x="649" y="2496.5">mailinglists</text>
<rect class="p" x="583.5" y="2503.5" width="112" height="24"/><text x="587.5" y="2520.5">ID</text>
<rect class="i" x="583.5" y="2527.5" width="112" height="24"/><text x="587.5" y="2544.5">owneruser</text>
<rect class="i" x="583.5" y="2551.5" width="112" height="24"/><text x="587.5" y="2568.5">ownergroup</text>
<rect class="i" x="583.5" y="2575.5" width="112" height="24"/><text x="587.5" y="2592.5">creator</text>
<rect class="i" x="583.5" y="2599.5" width="112" height="24"/><text x="587.5" y="2616.5">assigneduser</text>
<rect class="w" x="583.5" y="2623.5" width="112" height="24"/><text x="587.5" y="2640.5">creationdate</text>
<rect class="w" x="583.5" y="2647.5" width="112" height="24"/><text x="587.5" y="2664.5">lastmodified</text>
<rect class="w" x="583.5" y="2671.5" width="112" height="24"/><text x="587.5" y="2688.5">visibility</text>
<rect class="w" x="583.5" y="2695.5" width="112" height="24"/><text x="587.5" y="2712.5">name</text>
<rect class="w" x="583.5" y="2719.5" width="112" height="24"/><text x="587.5" y="2736.5">sender</text>
<rect class="w" x="583.5" y="2743.5" width="112" height="24"/><text x="587.5" y="2760.5">description</text>
<rect class="w" x="583.5" y="2767.5" width="29" height="24"/><rect class="w" x="612.5" y="2767.5" width="53" height="24"/><rect class="w" x="665.5" y="2767.5" width="30" height="24"/><text x="587.5" y="2784.5">&lt; 4</text><text class="e" x="663.5" y="2784.5">0 rows</text><text class="e" x="693.5" y="2784.5">2 &gt;</text></g>

<g id="comments"><rect class="h" x="792.5" y="2632.5" width="100" height="24"/><rect class="w" x="792.5" y="2656.5" width="100" height="24"/><rect class="w" x="792.5" y="2680.5" width="30" height="24"/><rect class="w" x="822.5" y="2680.5" width="53" height="24"/><rect class="w" x="875.5" y="2680.5" width="17" height="24"/><text class="c" x="839" y="2649.5">comments</text><text x="796.5" y="2673.5">...</text><text x="796.5" y="2697.5">&lt; 2</text><text class="e" x="873.5" y="2697.5">0 rows</text></g>

<g id="likes"><rect class="h" x="792.5" y="2732.5" width="100" height="24"/><rect class="w" x="792.5" y="2756.5" width="100" height="24"/><rect class="w" x="792.5" y="2780.5" width="30" height="24"/><rect class="w" x="822.5" y="2780.5" width="53" height="24"/><rect class="w" x="875.5" y="2780.5" width="17" height="24"/><text class="c" x="847" y="2749.5">likes</text><text x="796.5" y="2773.5">...</text><text x="796.5" y="2797.5">&lt; 2</text><text class="e" x="873.5" y="2797.5">0 rows</text></g>

<g id="notifications"><rect class="h" x="792.5" y="2832.5" width="100" height="24"/><rect class="w" x="792.5" y="2856.5" width="100" height="24"/><rect class="w" x="792.5" y="2880.5" width="30" height="24"/><rect class="w" x="822.5" y="2880.5" width="53" height="24"/><rect class="w" x="875.5" y="2880.5" width="17" height="24"/><text class="c" x="855" y="2849.5">notifications</text><text x="796.5" y="2873.5">...</text><text x="796.5" y="2897.5">&lt; 2</text><text class="e" x="873.5" y="2897.5">0 rows</text></g>

<g id="records"><rect class="h" x="583.5" y="2891.5" width="112" height="24"/><rect class="w" x="583.5" y="2915.5" width="112" height="24"/><rect class="w" x="583.5" y="2939.5" width="29" height="24"/><rect class="w" x="612.5" y="2939.5" width="53" height="24"/><rect class="w" x="665.5" y="2939.5" width="30" height="24"/><text class="c" x="641" y="2908.5">records</text><text x="587.5" y="2932.5">...</text><text x="587.5" y="2956.5">&lt; 4</text><text class="e" x="663.5" y="2956.5">0 rows</text><text class="e" x="693.5" y="2956.5">4 &gt;</text></g>

<g id="contracts"><rect class="h" x="792.5" y="2932.5" width="100" height="24"/><rect class="w" x="792.5" y="2956.5" width="100" height="24"/><rect class="w" x="792.5" y="2980.5" width="30" height="24"/><rect class="w" x="822.5" y="2980.5" width="53" height="24"/><rect class="w" x="875.5" y="2980.5" width="17" height="24"/><text class="c" x="847" y="2949.5">contracts</text><text x="796.5" y="2973.5">...</text><text x="796.5" y="2997.5">&lt; 4</text><text class="e" x="873.5" y="2997.5">0 rows</text></g>

<g id="weblets"><rect class="h" x="792.5" y="3032.5" width="100" height="24"/><rect class="w" x="792.5" y="3056.5" width="100" height="24"/><rect class="w" x="792.5" y="3080.5" width="30" height="24"/><rect class="w" x="822.5" y="3080.5" width="53" height="24"/><rect class="w" x="875.5" y="3080.5" width="17" height="24"/><text class="c" x="845" y="3049.5">weblets</text><text x="796.5" y="3073.5">...</text><text x="796.5" y="3097.5">&lt; 2</text><text class="e" x="873.5" y="3097.5">0 rows</text></g>

<g id="extdataforms"><rect class="h" x="792.5" y="3132.5" width="100" height="24"/><rect class="w" x="792.5" y="3156.5" width="100" height="24"/><rect class="w" x="792.5" y="3180.5" width="30" height="24"/><rect class="w" x="822.5" y="3180.5" width="53" height="24"/><rect class="w" x="875.5" y="3180.5" width="17" height="24"/><text class="c" x="846" y="3149.5">extdataforms</text><text x="796.5" y="3173.5">...</text><text x="796.5" y="3197.5">&lt; 2</text><text class="e" x="873.5" y="3197.5">0 rows</text></g>

<g id="applications"><rect class="h" x="583.5" y="3151.5" width="112" height="24"/><rect class="w" x="583.5" y="3175.5" width="112" height="24"/><rect class="w" x="583.5" y="3199.5" width="29" height="24"/><rect class="w" x="612.5" y="3199.5" width="53" height="24"/><rect class="w" x="665.5" y="3199.5" width="30" height="24"/><text class="c" x="648" y="3168.5">applications</text><text x="587.5" y="3192.5">...</text><text x="587.5" y="3216.5">&lt; 1</text><text class="e" x="663.5" y="3216.5">0 rows</text><text class="e" x="693.5" y="3216.5">4 &gt;</text></g>

<g id="resources"><rect class="h" x="792.5" y="3232.5" width="100" height="24"/><rect class="w" x="792.5" y="3256.5" width="100" height="24"/><rect class="w" x="792.5" y="3280.5" width="30" height="24"/><rect class="w" x="822.5" y="3280.5" width="53" height="24"/><rect class="w" x="875.5" y="3280.5" width="17" height="24"/><text class="c" x="845" y="3249.5">resources</text><text x="796.5" y="3273.5">...</text><text x="796.5" y="3297.5">&lt; 2</text><text class="e" x="873.5" y="3297.5">0 rows</text></g>

<g id="services"><rect class="h" x="792.5" y="3332.5" width="100" height="24"/><rect class="w" x="792.5" y="3356.5" width="100" height="24"/><rect class="w" x="792.5" y="3380.5" width="30" height="24"/><rect class="w" x="822.5" y="3380.5" width="53" height="24"/><rect class="w" x="875.5" y="3380.5" width="17" height="24"/><text class="c" x="846" y="3349.5">services</text><text x="796.5" y="3373.5">...</text><text x="796.5" y="3397.5">&lt; 2</text><text class="e" x="873.5" y="3397.5">0 rows</text></g>

<g id="links"><rect class="h" x="589.5" y="3391.5" width="100" height="24"/><rect class="w" x="589.5" y="3415.5" width="100" height="24"/><rect class="w" x="589.5" y="3439.5" width="30" height="24"/><rect class="w" x="619.5" y="3439.5" width="53" height="24"/><rect class="w" x="672.5" y="3439.5" width="17" height="24"/><text class="c" x="645" y="3408.5">links</text><text x="593.5" y="3432.5">...</text><text x="593.5" y="3456.5">&lt; 4</text><text class="e" x="670.5" y="3456.5">0 rows</text></g>

<g id="notes"><rect class="h" x="589.5" y="3491.5" width="100" height="24"/><rect class="w" x="589.5" y="3515.5" width="100" height="24"/><rect class="w" x="589.5" y="3539.5" width="30" height="24"/><rect class="w" x="619.5" y="3539.5" width="53" height="24"/><rect class="w" x="672.5" y="3539.5" width="17" height="24"/><text class="c" x="641" y="3508.5">notes</text><text x="593.5" y="3532.5">...</text><text x="593.5" y="3556.5">&lt; 4</text><text class="e" x="670.5" y="3556.5">0 rows</text></g>

<g id="objects"><rect class="h" x="589.5" y="3591.5" width="100" height="24"/><rect class="w" x="589.5" y="3615.5" width="100" height="24"/><rect class="w" x="589.5" y="3639.5" width="30" height="24"/><rect class="w" x="619.5" y="3639.5" width="53" height="24"/><rect class="w" x="672.5" y="3639.5" width="17" height="24"/><text class="c" x="643" y="3608.5">objects</text><text x="593.5" y="3632.5">...</text><text x="593.5" y="3656.5">&lt; 4</text><text class="e" x="670.5" y="3656.5">0 rows</text></g>

<g id="mailservers"><rect class="h" x="583.5" y="3691.5" width="112" height="24"/><text class="c" x="643" y="3708.5">mailservers</text>
<rect class="p" x="583.5" y="3715.5" width="112" height="24"/><text x="587.5" y="3732.5">ID</text>
<rect class="i" x="583.5" y="3739.5" width="112" height="24"/><text x="587.5" y="3756.5">owneruser</text>
<rect class="i" x="583.5" y="3763.5" width="112" height="24"/><text x="587.5" y="3780.5">ownergroup</text>
<rect class="i" x="583.5" y="3787.5" width="112" height="24"/><text x="587.5" y="3804.5">creator</text>
<rect class="w" x="583.5" y="3811.5" width="112" height="24"/><text x="587.5" y="3828.5">creationdate</text>
<rect class="w" x="583.5" y="3835.5" width="112" height="24"/><text x="587.5" y="3852.5">lastmodified</text>
<rect class="i" x="583.5" y="3859.5" width="112" height="24"/><text x="587.5" y="3876.5">message</text>
<rect class="i" x="583.5" y="3883.5" width="112" height="24"/><text x="587.5" y="3900.5">recipientuser</text>
<rect class="i" x="583.5" y="3907.5" width="112" height="24"/><text x="587.5" y="3924.5">recipientgroup</text>
<rect class="w" x="583.5" y="3931.5" width="112" height="24"/><text x="587.5" y="3948.5">activity</text>
<rect class="w" x="583.5" y="3955.5" width="112" height="24"/><text x="587.5" y="3972.5">name</text>
<rect class="w" x="583.5" y="3979.5" width="112" height="24"/><text x="587.5" y="3996.5">sender</text>
<rect class="w" x="583.5" y="4003.5" width="112" height="24"/><text x="587.5" y="4020.5">serverin</text>
<rect class="w" x="583.5" y="4027.5" width="112" height="24"/><text x="587.5" y="4044.5">usernamein</text>
<rect class="w" x="583.5" y="4051.5" width="112" height="24"/><text x="587.5" y="4068.5">passwordin</text>
<rect class="w" x="583.5" y="4075.5" width="112" height="24"/><text x="587.5" y="4092.5">serverout</text>
<rect class="w" x="583.5" y="4099.5" width="112" height="24"/><text x="587.5" y="4116.5">usernameout</text>
<rect class="w" x="583.5" y="4123.5" width="112" height="24"/><text x="587.5" y="4140.5">passwordout</text>
<rect class="w" x="583.5" y="4147.5" width="112" height="24"/><text x="587.5" y="4164.5">lastfetch</text>
<rect class="w" x="583.5" y="4171.5" width="112" height="24"/><text x="587.5" y="4188.5">uidvalidity</text>
<rect class="w" x="583.5" y="4195.5" width="112" height="24"/><text x="587.5" y="4212.5">description</text>
<rect class="w" x="583.5" y="4219.5" width="29" height="24"/><rect class="w" x="612.5" y="4219.5" width="53" height="24"/><rect class="w" x="665.5" y="4219.5" width="30" height="24"/><text x="587.5" y="4236.5">&lt; 6</text><text class="e" x="663.5" y="4236.5">0 rows</text><text class="e" x="693.5" y="4236.5">1 &gt;</text></g>

<g id="events"><rect class="h" x="589.5" y="4271.5" width="100" height="24"/><rect class="w" x="589.5" y="4295.5" width="100" height="24"/><rect class="w" x="589.5" y="4319.5" width="30" height="24"/><rect class="w" x="619.5" y="4319.5" width="53" height="24"/><rect class="w" x="672.5" y="4319.5" width="17" height="24"/><text class="c" x="641" y="4288.5">events</text><text x="593.5" y="4312.5">...</text><text x="593.5" y="4336.5">&lt; 3</text><text class="e" x="670.5" y="4336.5">0 rows</text></g>

<text x="16" y="4455">Generated by SchemaSpy</text>
</g>
</svg>
